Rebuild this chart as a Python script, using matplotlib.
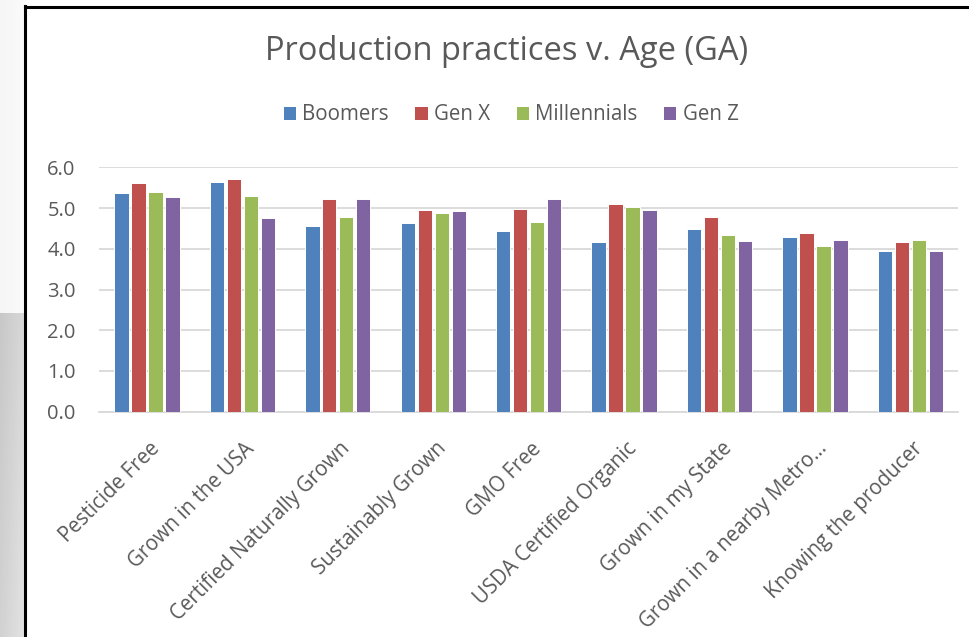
import numpy as np
import matplotlib.pyplot as plt
from matplotlib.lines import Line2D
from matplotlib.patches import Patch

plt.rcParams['font.family'] = ['Open Sans', 'DejaVu Sans']

# Mean rating per production practice, by generation
practices = ['Pesticide Free', 'Grown in the USA', 'Certified Naturally Grown',
             'Sustainably Grown', 'GMO Free', 'USDA Certified Organic',
             'Grown in my State', 'Grown in a nearby Metro…', 'Knowing the producer']
generations = ['Boomers', 'Gen X', 'Millennials', 'Gen Z']
boomers = [5.36, 5.65, 4.57, 4.64, 4.44, 4.16, 4.48, 4.28, 3.94]
gen_x = [5.61, 5.71, 5.21, 4.94, 4.98, 5.11, 4.79, 4.38, 4.16]
millennials = [5.39, 5.30, 4.79, 4.89, 4.66, 5.03, 4.35, 4.06, 4.22]
gen_z = [5.26, 4.76, 5.23, 4.92, 5.21, 4.94, 4.20, 4.22, 3.94]
yticks = [0.0, 1.0, 2.0, 3.0, 4.0, 5.0, 6.0]

series = [boomers, gen_x, millennials, gen_z]
colors = ['#4F81BD', '#C0504D', '#9BBB59', '#8064A2']
text_color = '#595959'

fig = plt.figure(figsize=(9.7, 6.37), dpi=100)

# slide background strip on the left
bg = fig.add_axes([0, 0, 26 / 970, 1])
grad = np.ones((637, 26))
grad[:313, :] = np.linspace(0.96, 0.98, 26)[None, :]
grad[313:, :] = np.linspace(0.78, 0.85, 26)[None, :] + np.linspace(0.0, 0.04, 324)[:, None]
bg.imshow(grad, cmap='gray', vmin=0, vmax=1, aspect='auto', extent=[0, 1, 0, 1])
bg.set_axis_off()

# chart frame (left and top edges)
fig.add_artist(Line2D([25.5 / 970, 25.5 / 970], [0, 1 - 6 / 637], color='black', lw=2.2,
                      transform=fig.transFigure))
fig.add_artist(Line2D([25.5 / 970, 1], [1 - 7 / 637, 1 - 7 / 637], color='black', lw=2.2,
                      transform=fig.transFigure))

ax = fig.add_axes([99.3 / 970, 1 - 411.7 / 637, 858.7 / 970, 244.4 / 637])
x = np.arange(len(practices))
pitch = 0.178
for i, (vals, col, name) in enumerate(zip(series, colors, generations)):
    ax.bar(x + (i - 1.5) * pitch, vals, width=0.15, color=col, edgecolor='white',
           linewidth=0.7, label=name, zorder=3)

ax.set_xlim(-0.5, len(practices) - 0.5)
ax.set_ylim(0, 6)
ax.set_yticks(yticks)
ax.set_yticklabels([f'{v:.1f}' for v in yticks])
ax.yaxis.grid(True, color='#d9d9d9', linewidth=1.3, zorder=0)
ax.set_axisbelow(True)
for s in ['top', 'right', 'left']:
    ax.spines[s].set_visible(False)
ax.spines['bottom'].set_color('#d9d9d9')
ax.spines['bottom'].set_linewidth(1.3)
ax.tick_params(axis='both', length=0, labelsize=14.5, labelcolor=text_color)
ax.tick_params(axis='y', pad=17)
ax.set_xticks(x + 0.02)
ax.set_xticklabels(practices, rotation=45, ha='right', va='top', rotation_mode='anchor',
                   fontsize=14.8)
ax.tick_params(axis='x', pad=19)

fig.text(506.5 / 970, 1 - 52 / 637, 'Production practices v. Age (GA)', ha='center', va='center',
         fontsize=23.5, color=text_color)

handles = [Patch(facecolor=c, edgecolor='none') for c in colors]
fig.legend(handles, generations, loc='center', bbox_to_anchor=(511 / 970, 1 - 115 / 637),
           ncol=4, frameon=False, fontsize=14.8, labelcolor=text_color,
           handlelength=0.6, handleheight=0.6, handletextpad=0.3, columnspacing=1.3)

fig.savefig('out.png', dpi=100)
